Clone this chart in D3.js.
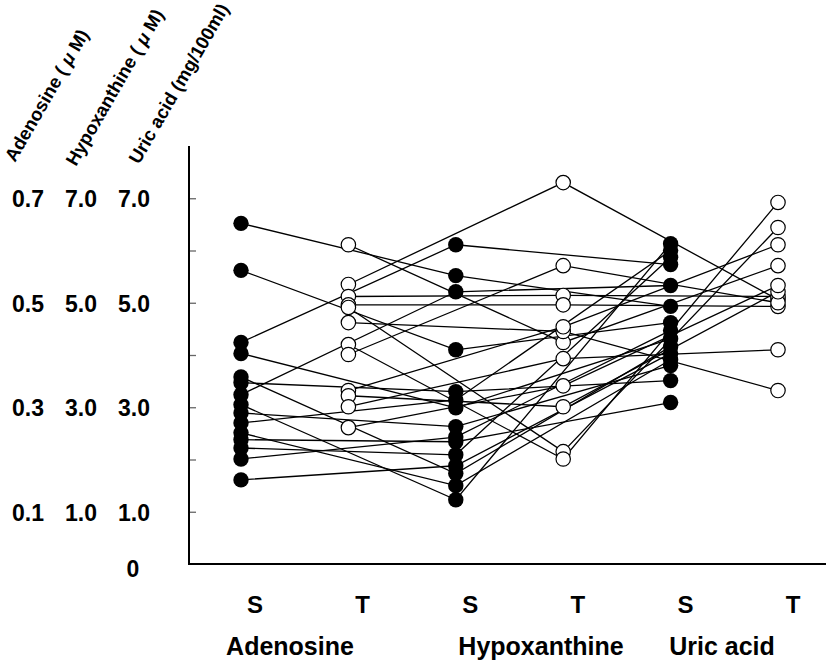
<!DOCTYPE html>
<html>
<head>
<meta charset="utf-8">
<script src="https://cdn.jsdelivr.net/npm/d3@7"></script>
<style>
  html, body { margin: 0; padding: 0; background: #fff; }
  svg { display: block; font-family: "Liberation Sans", Arial, sans-serif; }
</style>
</head>
<body>
<svg id="chart" width="826" height="660"></svg>
<script>
// ---- data ----
const columns = ["AdoS", "AdoT", "HypS", "HypT", "UraS", "UraT"];
const columnLabels = ["S", "T", "S", "T", "S", "T"];
const groupLabels = ["Adenosine", "Hypoxanthine", "Uric acid"];
const axisTitles = ["Adenosine ( μ M)", "Hypoxanthine ( μ M)", "Uric acid (mg/100ml)"];
const tickValues = [1, 3, 5, 7];
const tickLabelsAdo = ["0.1", "0.3", "0.5", "0.7"];
const tickLabelsHyp = ["1.0", "3.0", "5.0", "7.0"];
const tickLabelsUra = ["1.0", "3.0", "5.0", "7.0"];
const minorTicks = [1, 2, 3, 4, 5, 6, 7];

// S subjects (filled): Adenosine S -> Hypoxanthine S -> Uric acid S (scaled units)
const adoS = [6.52, 5.62, 4.24, 4.03, 3.58, 3.47, 3.24, 3.05, 2.89, 2.70, 2.51, 2.38, 2.22, 2.01, 1.61];
const hypS = [5.52, 4.10, 6.11, 2.99, 1.73, 3.30, 5.21, 1.23, 2.63, 3.14, 1.50, 2.34, 2.09, 2.43, 1.88];
const uraS = [4.93, 4.62, 5.73, 4.31, 4.16, 3.51, 5.33, 6.13, 3.80, 6.00, 3.91, 3.09, 5.87, 4.47, 4.03];
// T subjects (open): Adenosine T -> Hypoxanthine T -> Uric acid T
const adoT = [6.11, 5.35, 5.12, 4.96, 4.91, 4.62, 4.20, 4.01, 3.32, 3.22, 3.01, 2.61];
const hypT = [4.24, 7.30, 5.14, 4.96, 2.15, 4.45, 2.01, 5.71, 4.54, 3.01, 3.93, 3.41];
const uraT = [5.71, 5.06, 5.12, 4.93, 6.44, 3.32, 6.92, 5.00, 6.11, 5.21, 4.10, 5.33];

// ---- layout ----
const svg = d3.select("#chart");
const x = d3.scalePoint().domain(columns).range([241, 778]);
const xLab = d3.scalePoint().domain(columns).range([255, 793]);
const y = d3.scaleLinear().domain([0, 8]).range([564, 146]);

// axes lines
svg.append("line").attr("x1", 189).attr("x2", 189).attr("y1", y(8)).attr("y2", y(0) + 1)
  .attr("stroke", "#000").attr("stroke-width", 2);
svg.append("line").attr("x1", 188).attr("x2", 826).attr("y1", y(0)).attr("y2", y(0))
  .attr("stroke", "#000").attr("stroke-width", 2);

// inward tick marks
const yAxis = d3.axisRight(y).tickValues(minorTicks).tickSize(6).tickFormat("");
const gAx = svg.append("g").attr("transform", "translate(190,0)").call(yAxis);
gAx.select(".domain").remove();
gAx.selectAll(".tick line").attr("stroke", "#666").attr("stroke-width", 1.3);

// tick labels (three columns)
const labelCols = [
  { x: 28, labels: tickLabelsAdo },
  { x: 81, labels: tickLabelsHyp },
  { x: 134, labels: tickLabelsUra }
];
labelCols.forEach(col => {
  svg.append("g").selectAll("text").data(tickValues).join("text")
    .attr("x", col.x).attr("y", d => y(d) + 9)
    .attr("text-anchor", "middle").attr("font-size", 23).attr("font-weight", "bold")
    .text((d, i) => col.labels[i]);
});
svg.append("text").attr("x", 133).attr("y", y(0) + 13)
  .attr("text-anchor", "middle").attr("font-size", 23).attr("font-weight", "bold").text("0");

// rotated axis titles
const titlePos = [[15, 163], [76, 167], [139, 165]];
axisTitles.forEach((t, i) => {
  const txt = svg.append("text")
    .attr("transform", `translate(${titlePos[i][0]},${titlePos[i][1]}) rotate(-60)`)
    .attr("font-size", 18.5).attr("font-weight", "bold");
  const parts = t.split("μ");
  if (parts.length > 1) {
    txt.append("tspan").text(parts[0]);
    txt.append("tspan").attr("font-style", "italic").text("μ");
    txt.append("tspan").text(parts[1]);
  } else {
    txt.text(t);
  }
});

// x labels
svg.append("g").selectAll("text").data(columns).join("text")
  .attr("x", d => xLab(d)).attr("y", 613)
  .attr("text-anchor", "middle").attr("font-size", 24).attr("font-weight", "bold")
  .text((d, i) => columnLabels[i]);
const groupCenters = [290, 541, 722];
svg.append("g").selectAll("text").data(groupLabels).join("text")
  .attr("x", (d, i) => groupCenters[i]).attr("y", 655)
  .attr("text-anchor", "middle").attr("font-size", 25).attr("font-weight", "bold")
  .text(d => d);

// series lines
const line = d3.line().x(d => x(d.c)).y(d => y(d.v));
const sSubjects = adoS.map((v, i) => [
  { c: "AdoS", v: v }, { c: "HypS", v: hypS[i] }, { c: "UraS", v: uraS[i] }
]);
const tSubjects = adoT.map((v, i) => [
  { c: "AdoT", v: v }, { c: "HypT", v: hypT[i] }, { c: "UraT", v: uraT[i] }
]);
svg.append("g").selectAll("path").data(sSubjects.concat(tSubjects)).join("path")
  .attr("d", line).attr("fill", "none").attr("stroke", "#000").attr("stroke-width", 1.3);

// points
svg.append("g").selectAll("circle").data(sSubjects.flat()).join("circle")
  .attr("cx", d => x(d.c)).attr("cy", d => y(d.v)).attr("r", 7.7)
  .attr("fill", "#000");
svg.append("g").selectAll("circle").data(tSubjects.flat()).join("circle")
  .attr("cx", d => x(d.c)).attr("cy", d => y(d.v)).attr("r", 7.2)
  .attr("fill", "#fff").attr("stroke", "#000").attr("stroke-width", 1.2);
</script>
</body>
</html>
